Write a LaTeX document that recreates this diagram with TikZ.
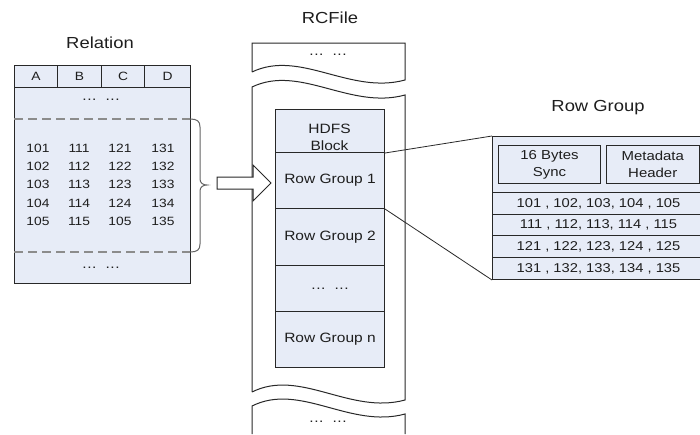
\documentclass[tikz,border=0pt]{standalone}
\usepackage{fontspec}
\setmainfont{Liberation Sans}[FakeStretch=1.15]
\definecolor{fillC}{RGB}{231,236,247}
\definecolor{lineC}{RGB}{40,40,40}
\definecolor{dashC}{RGB}{140,140,140}
\definecolor{braceC}{RGB}{100,100,100}
\definecolor{textC}{RGB}{30,30,30}
\newcommand{\mydots}{.\kern0.6pt.\kern0.6pt.\hspace{9pt}.\kern0.6pt.\kern0.6pt.}
\begin{document}
\begin{tikzpicture}[x=1pt,y=-1pt,
  frame/.style={draw=lineC, line width=1pt},
  cellbox/.style={draw=lineC, fill=fillC, line width=1pt, inner sep=0pt, anchor=north west},
  txt/.style={text=textC, inner sep=0pt, align=center, font=\fontsize{13.5}{17}\selectfont},
  dotsty/.style={text=textC, inner sep=0pt, font=\fontsize{13.5}{17}\selectfont},
  numtxt/.style={text=textC, inner sep=0pt, font=\fontsize{12}{14}\selectfont},
  ttl/.style={text=textC, inner sep=0pt, font=\fontsize{16}{18}\selectfont},
  dashrule/.style={draw=dashC, line width=2.2pt, dash pattern=on 9pt off 5pt},
  conn/.style={draw=lineC, line width=0.8pt},
]
\clip (0,0) rectangle (700,434);
\fill[white] (0,0) rectangle (700,434);

% ---------------- Relation ----------------
\node[ttl] (reltitle) at (100,43) {Relation};
\node[cellbox, minimum width=176, minimum height=218] (rel) at (14,65) {};
\node[cellbox, minimum width=43, minimum height=22, text=textC, font=\fontsize{12}{14}\selectfont] (hA) at (14,65) {A};
\node[cellbox, minimum width=44, minimum height=22, text=textC, font=\fontsize{12}{14}\selectfont] (hB) at (57,65) {B};
\node[cellbox, minimum width=43, minimum height=22, text=textC, font=\fontsize{12}{14}\selectfont] (hC) at (101,65) {C};
\node[cellbox, minimum width=46, minimum height=22, text=textC, font=\fontsize{12}{14}\selectfont] (hD) at (144,65) {D};
\node[dotsty] (reldotsA) at (101,100) {\mydots};
\node[dotsty] (reldotsB) at (101,268) {\mydots};

\coordinate (dTopL) at (14,119);
\coordinate (dTopR) at (190,119);
\coordinate (dBotL) at (14,252);
\coordinate (dBotR) at (190,252);
\draw[dashrule] (dTopL) -- (dTopR);
\draw[dashrule] (dBotL) -- (dBotR);
\draw[draw=braceC, line width=1pt] (dTopR) .. controls (197,119) and (200,121) .. (200,127)
  -- (200,179) .. controls (200,183) and (203,185) .. (207,185)
  .. controls (203,185) and (200,187) .. (200,191)
  -- (200,244) .. controls (200,250) and (197,252) .. (dBotR);

\foreach \a/\b/\c/\d [count=\i] in {101/111/121/131,102/112/122/132,103/113/123/133,104/114/124/134,105/115/105/135}{
  \node[numtxt] (na\i) at (38,{148+(\i-1)*18.4}) {\a};
  \node[numtxt] (nb\i) at (79,{148+(\i-1)*18.4}) {\b};
  \node[numtxt] (nc\i) at (120,{148+(\i-1)*18.4}) {\c};
  \node[numtxt] (nd\i) at (163,{148+(\i-1)*18.4}) {\d};
}

% ---------------- RCFile ----------------
\node[ttl] (rctitle) at (330,18) {RCFile};
\draw[frame] (252,72) -- (252,43) -- (405,43) -- (405,80)
  .. controls (350,95) and (300,49) .. (252,72);
\draw[frame] (252,392) -- (252,87) .. controls (300,64) and (350,110) .. (405,95)
  -- (405,400) .. controls (350,415) and (300,368) .. (252,392);
\draw[frame] (252,434) -- (252,406) .. controls (300,382) and (350,429) .. (405,414) -- (405,434);
\node[dotsty] (topdots) at (328,55) {\mydots};
\node[dotsty] (botdots) at (328,422) {\mydots};

\node[cellbox, minimum width=109, minimum height=43] (hdfs) at (275,109) {};
\node[cellbox, txt, minimum width=109, minimum height=56] (rg1) at (275,152) {Row Group 1};
\node[cellbox, txt, minimum width=109, minimum height=57] (rg2) at (275,208) {Row Group 2};
\node[cellbox, txt, minimum width=109, minimum height=46] (rgd) at (275,265) {\mydots};
\node[cellbox, txt, minimum width=109, minimum height=56] (rgn) at (275,311) {Row Group n};
\node[txt] (hdfsT) at (329.5,137) {HDFS\\Block};

% block arrow
\draw[frame, fill=white] (217,177) -- (253,177) -- (253,165) -- (271,183)
  -- (253,201) -- (253,189) -- (217,189) -- cycle;

% ---------------- Row Group detail ----------------
\node[ttl] (rgtitle) at (598,108) {Row Group};
\node[cellbox, minimum width=212, minimum height=143] (rgbox) at (492,136) {};
\node[cellbox, txt, font=\fontsize{13}{17}\selectfont, minimum width=102, minimum height=38] (sync) at (498,145) {16 Bytes\\Sync};
\node[cellbox, txt, font=\fontsize{13}{17}\selectfont, minimum width=92.5, minimum height=38] (meta) at (606,145) {Metadata\\Header};
\node[cellbox, txt, font=\fontsize{12.8}{15}\selectfont, minimum width=212, minimum height=22] (d1) at (492,192) {101 , 102, 103, 104 , 105};
\node[cellbox, txt, font=\fontsize{12.8}{15}\selectfont, minimum width=212, minimum height=21] (d2) at (492,214) {111 , 112, 113, 114 , 115};
\node[cellbox, txt, font=\fontsize{12.8}{15}\selectfont, minimum width=212, minimum height=22] (d3) at (492,235) {121 , 122, 123, 124 , 125};
\node[cellbox, txt, font=\fontsize{12.8}{15}\selectfont, minimum width=212, minimum height=22] (d4) at (492,257) {131 , 132, 133, 134 , 135};

\draw[conn] (hdfs.south east) -- (rgbox.north west);
\draw[conn] (rg1.south east) -- (rgbox.south west);
\end{tikzpicture}
\end{document}
